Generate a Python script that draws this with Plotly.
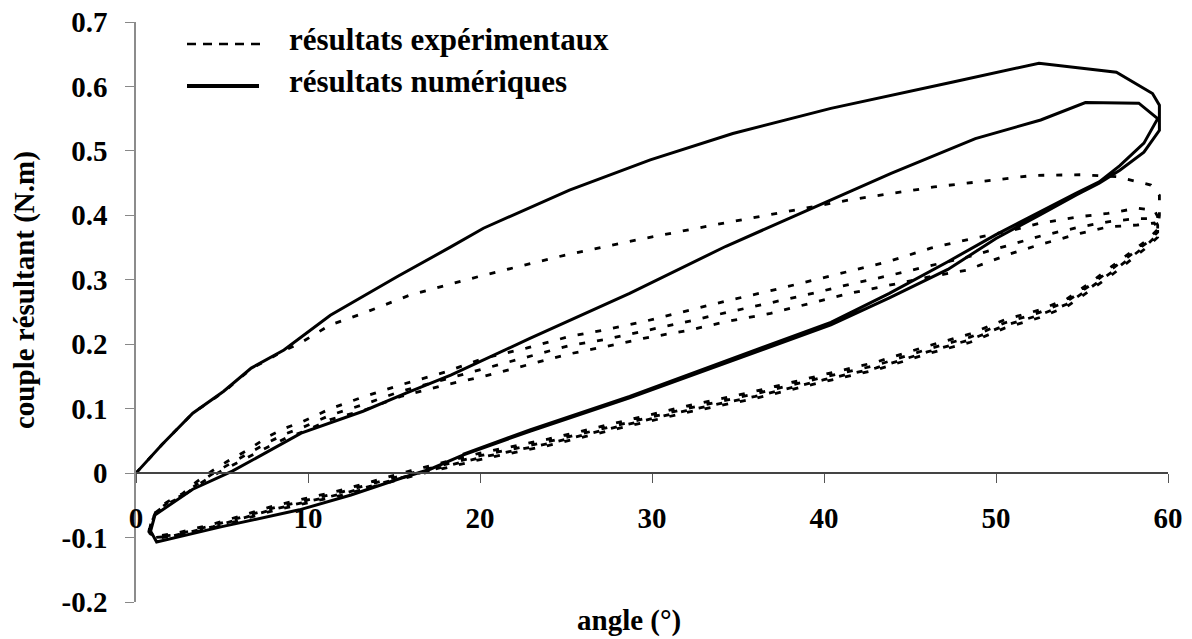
import plotly.graph_objects as go

# ---- numerical results (solid) : first loading, unloading, reloading, unloading
num_load_x = [0, 1.5, 3.3, 5.1, 6.7, 8.6, 11.3, 15.2, 18.3, 20.2, 25.2, 29.9, 34.7, 40.4, 47.5, 52.5, 57.0, 59.1, 59.5]
num_load_y = [0, 0.044, 0.093, 0.127, 0.163, 0.191, 0.245, 0.305, 0.351, 0.380, 0.439, 0.486, 0.527, 0.566, 0.607, 0.636, 0.622, 0.589, 0.571]

num_unload1_x = [59.5, 58.6, 57.2, 56.0, 54.7, 52.5, 50.0, 47.2, 43.8, 40.4, 34.5, 28.7, 22.9, 19.0, 17.1, 15.4, 12.5, 9.5, 5.0, 1.2, 0.85]
num_unload1_y = [0.532, 0.498, 0.470, 0.450, 0.432, 0.400, 0.364, 0.316, 0.272, 0.230, 0.173, 0.117, 0.065, 0.028, 0.006, -0.008, -0.034, -0.057, -0.083, -0.107, -0.090]

num_reload_x = [1.1, 3.3, 5.6, 9.6, 13.2, 15.7, 18.3, 22.9, 28.7, 34.3, 40.4, 43.9, 48.8, 52.6, 55.2, 58.3, 59.4]
num_reload_y = [-0.065, -0.025, 0.003, 0.062, 0.096, 0.124, 0.152, 0.209, 0.279, 0.352, 0.424, 0.465, 0.519, 0.548, 0.575, 0.574, 0.550]

num_unload2_x = [58.6, 57.2, 56.0, 54.7, 52.5, 50.0, 47.2, 43.8, 40.4, 34.5, 28.7, 22.9, 19.0]
num_unload2_y = [0.512, 0.477, 0.452, 0.435, 0.405, 0.370, 0.328, 0.279, 0.234, 0.176, 0.119, 0.067, 0.029]

# ---- experimental results (dashed) : first loading then 4 unloadings / 3 reloadings
exp_load_x = [0, 1.5, 3.3, 5.1, 6.7, 8.6, 9.5, 11.3, 13.2, 15.9, 18.1, 20.2, 24.9, 29.5, 34.2, 39.0, 41.5, 46.4, 52.2, 55.0, 57.0, 59.0, 59.5, 59.5]
exp_load_y = [0, 0.044, 0.093, 0.126, 0.162, 0.190, 0.201, 0.230, 0.248, 0.276, 0.292, 0.307, 0.338, 0.364, 0.388, 0.411, 0.424, 0.444, 0.462, 0.463, 0.460, 0.447, 0.431, 0.400]

fall_x = [59.4, 58.8, 57.8, 56.8, 55.5, 54.1, 52.5, 50.5, 48.5, 46.0, 43.0, 40.0, 36.0, 32.0, 28.0, 24.0, 20.0, 16.0, 12.0, 8.0, 4.5, 2.2, 1.1, 0.75]
fall1_y = [0.378, 0.362, 0.342, 0.321, 0.296, 0.270, 0.253, 0.238, 0.216, 0.197, 0.172, 0.153, 0.127, 0.104, 0.079, 0.053, 0.031, 0.004, -0.026, -0.051, -0.079, -0.094, -0.098, -0.090]
fall2_y = [0.374, 0.358, 0.338, 0.317, 0.292, 0.266, 0.249, 0.233, 0.211, 0.192, 0.167, 0.149, 0.123, 0.100, 0.075, 0.049, 0.027, 0.000, -0.029, -0.054, -0.081, -0.096, -0.099, -0.091]
fall3_y = [0.370, 0.355, 0.334, 0.313, 0.288, 0.262, 0.245, 0.229, 0.207, 0.188, 0.163, 0.145, 0.119, 0.097, 0.072, 0.046, 0.024, -0.003, -0.032, -0.056, -0.083, -0.097, -0.100, -0.092]
fall4_y = [0.366, 0.351, 0.330, 0.309, 0.284, 0.258, 0.241, 0.225, 0.203, 0.185, 0.160, 0.142, 0.116, 0.094, 0.069, 0.043, 0.021, -0.005, -0.034, -0.058, -0.085, -0.098, -0.101, -0.092]

rise_x = [0.75, 0.85, 1.2, 1.8, 2.7, 3.5, 4.4, 5.3, 6.5, 7.7, 8.7, 9.7, 11.3, 13.3, 15.4, 18.0, 20.2, 22.7, 25.2, 27.4, 29.5, 32.2, 34.3, 36.9, 39.2, 41.5, 43.7, 46.2, 48.3, 50.8, 52.6, 54.9, 56.5, 58.2, 59.2, 59.4]
rise2_y = [-0.090, -0.078, -0.057, -0.045, -0.032, -0.014, 0.003, 0.018, 0.036, 0.057, 0.070, 0.080, 0.100, 0.119, 0.137, 0.157, 0.178, 0.194, 0.212, 0.223, 0.235, 0.253, 0.267, 0.283, 0.298, 0.313, 0.328, 0.349, 0.362, 0.376, 0.388, 0.398, 0.403, 0.411, 0.408, 0.398]
rise3_y = [-0.091, -0.079, -0.059, -0.047, -0.034, -0.018, -0.002, 0.012, 0.030, 0.048, 0.061, 0.071, 0.090, 0.107, 0.127, 0.146, 0.162, 0.180, 0.198, 0.208, 0.220, 0.236, 0.249, 0.264, 0.278, 0.293, 0.306, 0.322, 0.335, 0.354, 0.368, 0.382, 0.390, 0.395, 0.395, 0.385]
rise4_y = [-0.092, -0.080, -0.060, -0.048, -0.036, -0.020, -0.005, 0.008, 0.025, 0.041, 0.054, 0.064, 0.083, 0.098, 0.119, 0.137, 0.150, 0.168, 0.185, 0.197, 0.209, 0.222, 0.235, 0.248, 0.263, 0.279, 0.291, 0.305, 0.315, 0.340, 0.355, 0.372, 0.382, 0.385, 0.388, 0.380]

yticks = [-0.2, -0.1, 0, 0.1, 0.2, 0.3, 0.4, 0.5, 0.6, 0.7]
ytick_text = ['-0.2', '-0.1', '0', '0.1', '0.2', '0.3', '0.4', '0.5', '0.6', '0.7']
xticks = [0, 10, 20, 30, 40, 50, 60]

exp_x = exp_load_x + fall_x + rise_x + fall_x + rise_x + fall_x + rise_x + fall_x
exp_y = exp_load_y + fall1_y + rise2_y + fall2_y + rise3_y + fall3_y + rise4_y + fall4_y
num_x = num_load_x + num_unload1_x + num_reload_x + num_unload2_x
num_y = num_load_y + num_unload1_y + num_reload_y + num_unload2_y

FONT = "Liberation Serif"

fig = go.Figure()
fig.add_trace(go.Scatter(x=exp_x, y=exp_y, mode='lines', name='résultats expérimentaux',
                         line=dict(color='black', width=2.8, dash='6px,12px'), showlegend=False))
fig.add_trace(go.Scatter(x=num_x, y=num_y, mode='lines', name='résultats numériques',
                         line=dict(color='black', width=3), showlegend=False))

# hand-made legend (long line samples like the original)
W, H = 1192, 639
L, R, T, B = 136, 24, 22, 37
def px(x): return (x - L) / (W - L - R)
def py(y): return (H - B - y) / (H - T - B)

fig.add_shape(type='line', xref='paper', yref='paper', x0=px(187), x1=px(260), y0=py(44), y1=py(44),
              line=dict(color='black', width=2.5, dash='9px,7px'))
fig.add_shape(type='line', xref='paper', yref='paper', x0=px(187), x1=px(259), y0=py(86), y1=py(86),
              line=dict(color='black', width=4))
legend_font = dict(family=FONT, size=31, color='black', weight='bold')
fig.add_annotation(text='résultats expérimentaux', xref='paper', yref='paper', x=px(287), y=py(40),
                   xanchor='left', yanchor='middle', showarrow=False, font=legend_font)
fig.add_annotation(text='résultats numériques', xref='paper', yref='paper', x=px(287), y=py(81),
                   xanchor='left', yanchor='middle', showarrow=False, font=legend_font)

# axis titles
title_font = dict(family=FONT, size=29, color='black', weight='bold')
fig.add_annotation(text='angle (°)', xref='paper', yref='paper', x=px(629), y=py(620),
                   xanchor='center', yanchor='middle', showarrow=False, font=title_font)
fig.add_annotation(text='couple résultant (N.m)', xref='paper', yref='paper', x=px(24), y=py(290),
                   xanchor='center', yanchor='middle', textangle=-90, showarrow=False, font=title_font)

tickfont = dict(family=FONT, size=29, color='black', weight='bold')
fig.update_xaxes(range=[0, 60], tickvals=xticks, ticks='outside', ticklen=9, tickwidth=1.2,
                 tickcolor='#555555', showline=True, linecolor='#444444', linewidth=1.5,
                 anchor='free', position=0.2 / 0.9, showgrid=False, zeroline=False,
                 tickfont=tickfont, ticklabelstandoff=10, automargin=False)
fig.update_yaxes(range=[-0.2, 0.7], tickvals=yticks, ticktext=ytick_text, ticks='outside', ticklen=9,
                 tickwidth=1.2, tickcolor='#888888', showline=True, linecolor='#8c8c8c', linewidth=1.5,
                 showgrid=False, zeroline=False, tickfont=tickfont, ticklabelstandoff=12,
                 automargin=False)

fig.update_layout(width=W, height=H, margin=dict(l=L, r=R, t=T, b=B),
                  plot_bgcolor='white', paper_bgcolor='white', font=dict(family=FONT))

# page has a default 8px body margin; remove it so the figure sits at the window origin
fig.write_html("out.html", config={'displayModeBar': False},
               post_script="document.body.style.margin='0';")
